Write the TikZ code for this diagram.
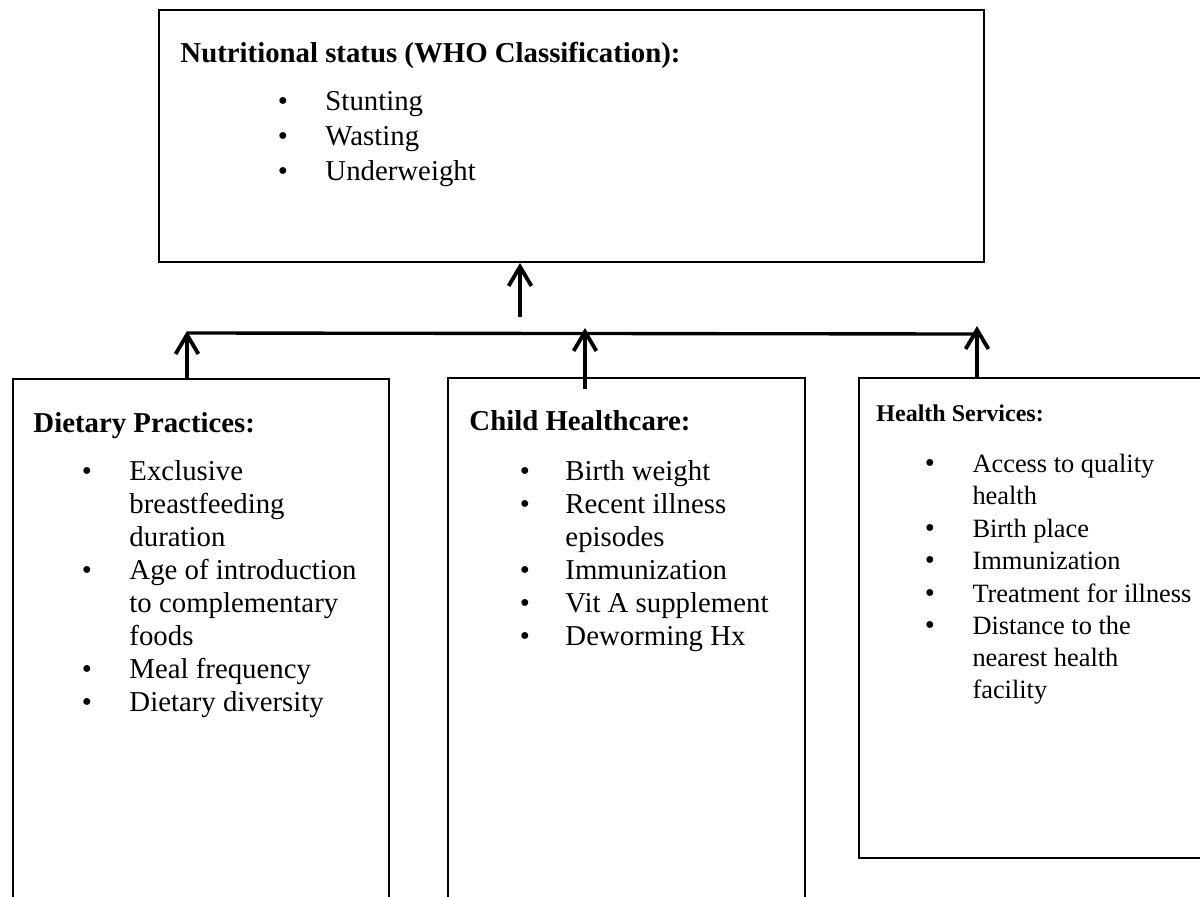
\documentclass[tikz,border=0pt]{standalone}
\usepackage{fontspec}
\setmainfont{Liberation Serif}
\usetikzlibrary{arrows.meta,fit}
\tikzset{
 box/.style={draw, line width=0.8pt, inner sep=0pt},
 arr/.style={line width=1.6pt, -{Straight Barb[length=8pt,width=9.5pt]}},
 conn/.style={line width=1.4pt},
 txt/.style={anchor=base west, inner sep=0pt, font=\fontsize{12pt}{14pt}\selectfont},
 stxt/.style={anchor=base west, inner sep=0pt, font=\fontsize{11pt}{13pt}\selectfont},
 hd/.style={anchor=base west, inner sep=0pt, font=\bfseries\fontsize{12pt}{14pt}\selectfont},
 bul/.style={anchor=base, inner sep=0pt, font=\fontsize{12pt}{14pt}\selectfont},
}
\begin{document}
\begin{tikzpicture}[x=0.4167pt,y=-0.4167pt]
\useasboundingbox (0,0) rectangle (1200,896);
\clip (0,0) rectangle (1200,896);
% boxes
\node[box, fit={(159,10)(984,262)}] (top) {};
\node[box, fit={(13,379)(389,910)}] (dp) {};
\node[box, fit={(448,378)(805,910)}] (ch) {};
\node[box, fit={(859,378)(1210,858)}] (hs) {};
% top box text
\node[hd] (t0) at (180,62) {Nutritional status (WHO Classification):};
\foreach \y/\t [count=\i] in {110/Stunting, 145/Wasting, 180/Underweight}{
  \node[bul] (tb\i) at (283,\y) {\textbullet};
  \node[txt] (tl\i) at (325,\y) {\t};
}
% dietary practices
\node[hd] (d0) at (33,432) {Dietary Practices:};
\foreach \y [count=\i] in {480,579,678,711}
  \node[bul] (db\i) at (87,\y) {\textbullet};
\foreach \y/\t [count=\i] in {480/Exclusive, 513/breastfeeding, 546/duration, 579/Age of introduction, 612/to complementary, 645/foods, 678/Meal frequency, 711/Dietary diversity}
  \node[txt] (dl\i) at (129,\y) {\t};
% child healthcare
\node[hd] (c0) at (469,430) {Child Healthcare:};
\foreach \y [count=\i] in {480,513,579,612,645}
  \node[bul] (cb\i) at (525,\y) {\textbullet};
\foreach \y/\t [count=\i] in {480/Birth weight, 513/Recent illness, 546/episodes, 579/Immunization, 612/Vit A supplement, 645/Deworming Hx}
  \node[txt] (cl\i) at (565,\y) {\t};
% health services
\node[anchor=base west, inner sep=0pt, font=\bfseries\fontsize{10pt}{12pt}\selectfont] (h0) at (876,421) {Health Services:};
\foreach \y [count=\i] in {472,537,569,602,634}
  \node[bul] (hb\i) at (930,\y) {\textbullet};
\foreach \y/\t [count=\i] in {472/Access to quality, 504/health, 537/Birth place, 569/Immunization, 602/Treatment for illness, 634/Distance to the, 666/nearest health, 698/facility}
  \node[stxt] (hl\i) at (972,\y) {\t};
% connectors
\coordinate (ta) at (520,317);
\draw[arr] (ta) -- (ta |- top.south);
\coordinate (jl) at (187,333);
\coordinate (jr) at (977,334);
\draw[conn] (jl) -- (jr);
\coordinate (la) at (187,331);
\coordinate (ma) at (585,328);
\coordinate (ra) at (977,326);
\draw[arr] (la |- dp.north) -- (la);
\draw[arr] ([yshift=-5pt]ma |- ch.north) -- (ma);
\draw[arr] (ra |- hs.north) -- (ra);
\end{tikzpicture}
\end{document}
